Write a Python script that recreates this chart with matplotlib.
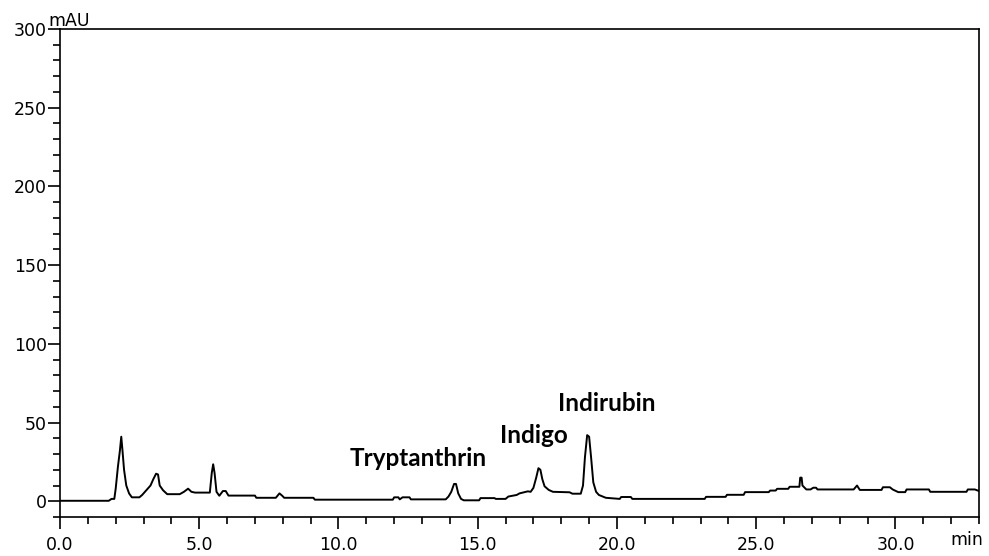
import numpy as np
import matplotlib as mpl
import matplotlib.pyplot as plt
from matplotlib.ticker import MultipleLocator, FormatStrFormatter

# retention time (min) and absorbance (mAU)
time = [0.0, 1.75, 1.85, 1.95, 2.0, 2.08, 2.15, 2.2, 2.24, 2.3, 2.38, 2.48, 2.58,
        2.85, 2.95, 3.1, 3.25, 3.35, 3.45, 3.52, 3.58, 3.7, 3.85, 4.3, 4.45, 4.6,
        4.72, 4.85, 5.38, 5.45, 5.5, 5.55, 5.62, 5.72, 5.85, 5.95, 6.05, 7.0, 7.05,
        7.75, 7.88, 7.98, 8.05, 9.1, 9.15, 11.95, 12.0, 12.15, 12.2, 12.3, 12.55,
        12.6, 13.85, 13.95, 14.05, 14.15, 14.22, 14.3, 14.4, 14.5, 15.05, 15.1,
        15.6, 15.65, 16.0, 16.1, 16.4, 16.5, 16.8, 16.9, 17.0, 17.1, 17.18, 17.25,
        17.32, 17.4, 17.55, 17.7, 18.3, 18.4, 18.7, 18.78, 18.85, 18.93, 19.0,
        19.07, 19.15, 19.25, 19.35, 19.6, 20.1, 20.15, 20.5, 20.55, 23.15, 23.2,
        23.9, 23.95, 24.55, 24.6, 25.45, 25.5, 25.7, 25.75, 26.15, 26.2, 26.55,
        26.58, 26.63, 26.66, 26.8, 26.95, 27.05, 27.15, 27.2, 28.5, 28.62, 28.72,
        29.5, 29.55, 29.8, 29.9, 30.1, 30.35, 30.4, 31.2, 31.25, 32.55, 32.6,
        32.85, 33.0]
mau = [0.3, 0.3, 1.5, 1.5, 8, 22, 32, 41, 33, 20, 10, 5, 2.5,
       2.5, 4, 7, 10, 14, 17.5, 17, 10, 7, 4.5, 4.5, 6, 8,
       6, 5.5, 5.5, 18, 23.5, 18, 6, 3.5, 6.5, 6.5, 3.6, 3.6, 2.2,
       2.2, 5, 3.5, 2.2, 2.2, 1.0, 1.0, 2.5, 2.5, 1.2, 2.5, 2.5,
       1.2, 1.2, 3, 6, 11, 11, 5, 1.5, 0.6, 0.6, 2,
       2, 1.5, 1.5, 3, 4, 5, 6.3, 6, 8.5, 15, 21, 20,
       14, 9.5, 7.2, 6, 5.7, 4.8, 4.8, 10, 28, 42, 41,
       28, 12, 6, 4, 2.2, 1.5, 2.7, 2.7, 1.5, 1.5, 2.8,
       2.8, 4.1, 4.1, 5.8, 5.8, 6.8, 6.8, 7.9, 7.9, 9.2, 9.2,
       15, 15, 10, 7.5, 7.5, 8.6, 8.6, 7.5, 7.5, 10, 7.2,
       7.2, 8.9, 8.9, 7.5, 5.8, 5.8, 7.5, 7.5, 6, 6, 7.5,
       7.5, 6.5]

peak_names = ['Tryptanthrin', 'Indigo', 'Indirubin']
peak_label_x = [12.87, 17.03, 19.63]
peak_label_y = [22.1, 37.3, 57.4]

plt.rcParams['font.family'] = ['DejaVu Sans']

fig = plt.figure(figsize=(9.89, 5.56), dpi=100)
ax = fig.add_axes([60/989, 39/556, 919/989, 488/556])

ax.plot(time, mau, color='black', lw=1.4)

ax.set_xlim(0, 33)
ax.set_ylim(-10, 300)

ax.xaxis.set_major_locator(MultipleLocator(5))
ax.xaxis.set_minor_locator(MultipleLocator(1))
ax.xaxis.set_major_formatter(FormatStrFormatter('%.1f'))
ax.yaxis.set_major_locator(MultipleLocator(50))
ax.yaxis.set_minor_locator(MultipleLocator(10))

ax.tick_params(axis='both', which='major', length=8.5, width=1.2, labelsize=12.5, colors='black')
ax.tick_params(axis='both', which='minor', length=5, width=1.2)
ax.tick_params(axis='y', which='major', pad=1)
ax.tick_params(axis='x', which='major', pad=5)

for s in ax.spines.values():
    s.set_linewidth(1.2)
    s.set_color('black')

# units
fig.text(48/989, 1 - 26/556, 'mAU', fontsize=12.5, ha='left', va='baseline')
fig.text(950/989, 1 - 545/556, 'min', fontsize=12.5, ha='left', va='baseline')

for name, x, y in zip(peak_names, peak_label_x, peak_label_y):
    ax.text(x, y, name, ha='center', va='baseline', fontsize=17.5,
            fontweight='bold', family=['Lato', 'DejaVu Sans'])

plt.savefig('out.png', dpi=100)
